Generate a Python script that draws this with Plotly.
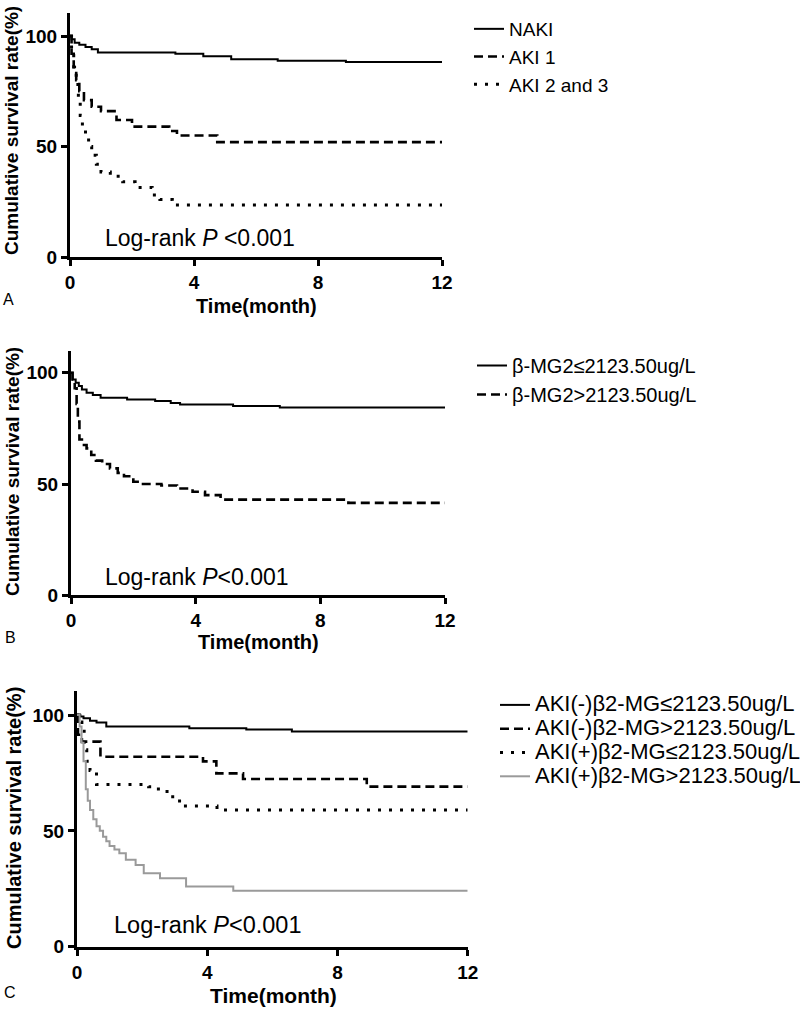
import plotly.graph_objects as go

W, H = 800, 1011

# ---------------- data ----------------
# Panel A
A_naki_t = [0, 0.05, 0.15, 0.3, 0.5, 0.7, 0.9, 3.4, 4.3, 5.2, 6.7, 8.9, 12]
A_naki_s = [100, 98.5, 97, 96, 95, 94, 92.5, 92, 90.8, 89.5, 88.8, 88.2, 88.2]
A_aki1_t = [0, 0.05, 0.12, 0.2, 0.3, 0.45, 0.7, 1.0, 1.5, 2.0, 3.2, 3.45, 4.75, 12]
A_aki1_s = [100, 92, 86, 80, 75, 71, 68, 66, 62, 59, 57, 55, 52, 52]
A_aki23_t = [0, 0.05, 0.12, 0.2, 0.27, 0.33, 0.4, 0.5, 0.6, 0.7, 0.85, 1.0, 1.3, 1.7, 2.1, 2.65, 2.9, 3.3, 12]
A_aki23_s = [100, 93, 86, 78, 70, 64, 59, 55, 50, 46, 42, 38.5, 36.5, 34, 31.5, 28, 26, 23.5, 23.5]

# Panel B
B_low_t = [0, 0.05, 0.15, 0.25, 0.35, 0.5, 0.7, 0.95, 1.8, 2.7, 3.2, 3.5, 5.2, 6.7, 12]
B_low_s = [100, 97, 95.5, 94, 92.5, 91, 90, 88.7, 88, 87.3, 86.4, 85.7, 85, 84.4, 84.4]
B_high_t = [0, 0.05, 0.12, 0.18, 0.22, 0.27, 0.35, 0.5, 0.65, 0.8, 1.0, 1.25, 1.5, 1.7, 2.0, 2.2, 2.9, 3.4, 3.9, 4.3, 4.8, 8.9, 12]
B_high_s = [100, 97, 93, 86, 78, 70, 67.5, 66, 63, 60.5, 59, 57, 55, 53.5, 51, 50, 49.3, 48, 46.5, 45, 43, 41.5, 41.5]

# Panel C
C_g1_t = [0, 0.1, 0.2, 0.4, 0.6, 0.9, 3.45, 5.2, 6.6, 12]
C_g1_s = [100, 99.3, 98.6, 97.5, 96.8, 95, 94.3, 93.7, 92.9, 92.9]
C_g2_t = [0, 0.03, 0.15, 0.72, 3.87, 4.28, 5.1, 8.9, 12]
C_g2_s = [100, 91.5, 88.5, 82, 80, 74.8, 72.4, 69.1, 69.1]
C_g3_t = [0, 0.08, 0.15, 0.22, 0.3, 0.4, 0.6, 2.2, 2.5, 2.85, 3.15, 4.3, 12]
C_g3_s = [100, 97, 93, 85, 80, 76, 70, 69, 67, 64.7, 60.7, 59, 59]
C_g4_t = [0, 0.08, 0.14, 0.2, 0.27, 0.33, 0.4, 0.5, 0.6, 0.7, 0.8, 0.9, 1.0, 1.15, 1.3, 1.5, 1.8, 2.05, 2.55, 3.35, 4.8, 12]
C_g4_s = [100, 95, 88, 80, 68, 63, 59, 55, 52, 50, 47.5, 45.5, 43.5, 42, 40.3, 37.5, 35.3, 31.7, 29.5, 26, 24.2, 24.2]

A_names = ["NAKI", "AKI 1", "AKI 2 and 3"]
B_names = ["β-MG2≤2123.50ug/L", "β-MG2&gt;2123.50ug/L"]
C_names = ["AKI(-)β2-MG≤2123.50ug/L", "AKI(-)β2-MG&gt;2123.50ug/L",
           "AKI(+)β2-MG≤2123.50ug/L", "AKI(+)β2-MG&gt;2123.50ug/L"]

x_ticks = [0, 4, 8, 12]
y_ticks = [0, 50, 100]

FONT = "Liberation Sans, Arial, Helvetica, sans-serif"

def px(x):
    return x / W

def py(y):
    return 1 - y / H

STYLES = {
    "solid": dict(color="black", width=2, dash="solid"),
    "dash": dict(color="black", width=2.6, dash="9px,5px"),
    "dot": dict(color="black", width=3, dash="3px,8px"),
    "gray": dict(color="#9a9a9a", width=2, dash="solid"),
}

fig = go.Figure()

panels = [
    dict(xa="x", ya="y", leg="legend", span=None,
         series=[(A_naki_t, A_naki_s, "solid"), (A_aki1_t, A_aki1_s, "dash"), (A_aki23_t, A_aki23_s, "dot")],
         names=A_names),
    dict(xa="x2", ya="y2", leg="legend2", span=None,
         series=[(B_low_t, B_low_s, "solid"), (B_high_t, B_high_s, "dash")],
         names=B_names),
    dict(xa="x3", ya="y3", leg="legend3", span=22,
         series=[(C_g1_t, C_g1_s, "solid"), (C_g2_t, C_g2_s, "dash"), (C_g3_t, C_g3_s, "dot"), (C_g4_t, C_g4_s, "gray")],
         names=C_names),
]

for p in panels:
    for i, ((t, s, st), nm) in enumerate(zip(p["series"], p["names"])):
        label = nm if p["span"] is None else f'<span style="font-size:{p["span"]}px">{nm}</span>'
        fig.add_trace(go.Scatter(
            x=t, y=s, mode="lines", line=dict(shape="hv", **STYLES[st]),
            name=label, xaxis=p["xa"], yaxis=p["ya"], legend=p["leg"],
            legendgroup=f"{p['leg']}_{i}", hoverinfo="skip"))

# geometry in pixels: (x0px, x12px, y0px, ytop_px, y100px)
geo = [
    (70, 442, 257, 13, 36),
    (71, 445, 595.3, 350.7, 372.7),
    (77, 467.7, 946.7, 690.7, 715),
]

layout_axes = {}
for k, (x0, x1, y0, ytop, y100) in enumerate(geo):
    sfx = "" if k == 0 else str(k + 1)
    ymax = 100 * (y0 - ytop) / (y0 - y100)
    axis_common = dict(showline=True, linecolor="black", linewidth=3,
                       ticks="outside", ticklen=6, tickwidth=3, tickcolor="black",
                       showgrid=False, zeroline=False, automargin=False,
                       tickfont=dict(family=FONT, size=19, color="black", weight="bold"))
    layout_axes["xaxis" + sfx] = dict(domain=[px(x0), px(x1)], range=[0, 12],
                                      tickvals=x_ticks, anchor="y" + sfx,
                                      **axis_common)
    layout_axes["yaxis" + sfx] = dict(domain=[py(y0), py(ytop)], range=[0, ymax],
                                      tickvals=y_ticks, anchor="x" + sfx,
                                      **axis_common)

fig.update_layout(**layout_axes)

legend_common = dict(bgcolor="rgba(0,0,0,0)", borderwidth=0, xanchor="left", yanchor="top",
                     traceorder="grouped", itemwidth=30)
fig.update_layout(
    template="none",
    width=W, height=H, margin=dict(l=0, r=0, t=0, b=0, pad=0, autoexpand=False),
    paper_bgcolor="white", plot_bgcolor="white",
    showlegend=True,
    legend=dict(x=px(469), y=py(10), tracegroupgap=0,
                font=dict(family=FONT, size=19, color="black"), **legend_common),
    legend2=dict(x=px(472), y=py(346), tracegroupgap=0,
                 font=dict(family=FONT, size=20, color="black"), **legend_common),
    legend3=dict(x=px(495), y=py(688), tracegroupgap=0,
                 font=dict(family=FONT, size=16, color="black"), **legend_common),
)

def ann(text, x, y, size, bold=False, angle=0, xanchor="center"):
    fig.add_annotation(text=text, x=px(x), y=py(y), xref="paper", yref="paper",
                       showarrow=False, textangle=angle, xanchor=xanchor, yanchor="middle",
                       font=dict(family=FONT, size=size, color="black",
                                 weight="bold" if bold else "normal"))

# y titles
ann("Cumulative survival rate(%)", 12, 131, 19, bold=True, angle=-90)
ann("Cumulative survival rate(%)", 12, 472, 19, bold=True, angle=-90)
ann("Cumulative survival rate(%)", 14, 818, 20, bold=True, angle=-90)
# x titles
ann("Time(month)", 256, 306, 20, bold=True)
ann("Time(month)", 258, 642, 20, bold=True)
ann("Time(month)", 273, 995, 21, bold=True)
# panel letters
ann("A", 8, 299, 16)
ann("B", 10, 637, 16)
ann("C", 10, 992, 16)
# log-rank
ann("Log-rank <i>P</i> &lt;0.001", 103, 238, 23, xanchor="left")
ann("Log-rank <i>P</i>&lt;0.001", 103, 577, 23, xanchor="left")
ann("Log-rank <i>P</i>&lt;0.001", 112, 925, 23.5, xanchor="left")

# the page's default 8px body margin would shift the 800x1011 figure; remove it
fig.write_html("out.html", config={"displayModeBar": False},
               post_script="document.body.style.margin='0px';")
